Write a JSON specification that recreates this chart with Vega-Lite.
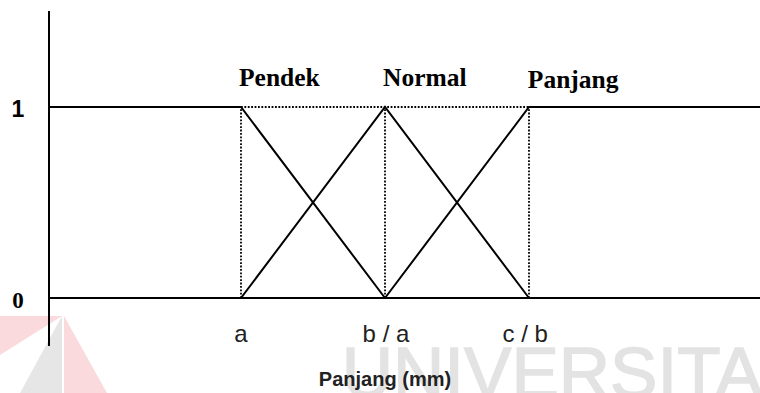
{
  "$schema": "https://vega.github.io/schema/vega-lite/v6.json",
  "width": 760,
  "height": 393,
  "padding": 0,
  "autosize": {"type": "fit", "contains": "padding"},
  "background": "white",
  "config": {"view": {"stroke": null}},
  "datasets": {
    "logo": [
      {"part": "pinkL", "x": -1.0208, "y": -0.0942, "y2": -0.2984},
      {"part": "pinkL", "x": 0.2708, "y": -0.0942, "y2": -0.0942},
      {"part": "grey", "x": -0.604, "y": -0.4974, "y2": -0.4974},
      {"part": "grey", "x": 0.2708, "y": -0.0942, "y2": -0.4974},
      {"part": "pinkR", "x": 0.3125, "y": -0.0942, "y2": -0.4974},
      {"part": "pinkR", "x": 1.2083, "y": -0.4974, "y2": -0.4974}
    ],
    "watermark": [{"text": "UNIVERSITA", "x": 6.1, "y": -0.52}],
    "solid": [
      {"id": "pendek", "k": 1, "x": 0, "y": 1},
      {"id": "pendek", "k": 2, "x": 4, "y": 1},
      {"id": "pendek", "k": 3, "x": 7, "y": 0},
      {"id": "normal", "k": 1, "x": 4, "y": 0},
      {"id": "normal", "k": 2, "x": 7, "y": 1},
      {"id": "normal", "k": 3, "x": 10, "y": 0},
      {"id": "panjang", "k": 1, "x": 7, "y": 0},
      {"id": "panjang", "k": 2, "x": 10, "y": 1},
      {"id": "panjang", "k": 3, "x": 14.8125, "y": 1},
      {"id": "base", "k": 1, "x": 0, "y": 0},
      {"id": "base", "k": 2, "x": 14.8125, "y": 0},
      {"id": "yaxis", "k": 1, "x": 0, "y": -0.251},
      {"id": "yaxis", "k": 2, "x": 0, "y": 1.503}
    ],
    "dotted": [
      {"x": 4, "y": 1, "x2": 10, "y2": 1},
      {"x": 4, "y": 0, "x2": 4, "y2": 1},
      {"x": 7, "y": 0, "x2": 7, "y2": 1},
      {"x": 10, "y": 0, "x2": 10, "y2": 1}
    ],
    "setLabels": [
      {"text": "Pendek", "x": 4.8, "y": 1.11},
      {"text": "Normal", "x": 7.83, "y": 1.11},
      {"text": "Panjang", "x": 10.92, "y": 1.1}
    ],
    "ticks": [
      {"text": "a", "x": 4, "y": -0.23},
      {"text": "b / a", "x": 7.02, "y": -0.23},
      {"text": "c / b", "x": 9.92, "y": -0.23}
    ],
    "title": [{"text": "Panjang (mm)", "x": 7.0, "y": -0.461}],
    "one": [{"text": "1", "x": -0.646, "y": 0.948}],
    "zero": [{"text": "0", "x": -0.646, "y": -0.052}]
  },
  "encoding": {
    "x": {"field": "x", "type": "quantitative", "scale": {"domain": [-1.0208, 14.8125], "nice": false, "zero": false}, "axis": null},
    "y": {"field": "y", "type": "quantitative", "scale": {"domain": [-0.4974, 1.5602], "nice": false, "zero": false}, "axis": null}
  },
  "layer": [
    {
      "data": {"name": "logo"},
      "mark": {"type": "area", "clip": true},
      "encoding": {
        "y": {"field": "y", "type": "quantitative", "stack": null},
        "y2": {"field": "y2"},
        "detail": {"field": "part"},
        "color": {"field": "part", "type": "nominal", "scale": {"domain": ["grey", "pinkL", "pinkR"], "range": ["#e6e6e6", "#fbdadd", "#fbdadd"]}, "legend": null}
      }
    },
    {
      "data": {"name": "watermark"},
      "mark": {"type": "text", "clip": true, "align": "left", "baseline": "alphabetic", "font": "Liberation Sans", "fontSize": 71, "color": "#e3e3e3", "stroke": "#e3e3e3", "strokeWidth": 1.5},
      "encoding": {"text": {"field": "text"}}
    },
    {
      "data": {"name": "dotted"},
      "mark": {"type": "rule", "clip": true, "color": "black", "strokeWidth": 1.8, "strokeDash": [1.8, 1.6]},
      "encoding": {"x2": {"field": "x2"}, "y2": {"field": "y2"}}
    },
    {
      "data": {"name": "solid"},
      "mark": {"type": "line", "clip": true, "color": "black", "strokeWidth": 2},
      "encoding": {"detail": {"field": "id"}, "order": {"field": "k", "type": "quantitative"}}
    },
    {
      "data": {"name": "setLabels"},
      "mark": {"type": "text", "clip": true, "align": "center", "baseline": "alphabetic", "font": "Liberation Serif", "fontWeight": "bold", "fontSize": 25.5, "color": "black"},
      "encoding": {"text": {"field": "text"}}
    },
    {
      "data": {"name": "ticks"},
      "mark": {"type": "text", "clip": true, "align": "center", "baseline": "alphabetic", "font": "Liberation Sans", "fontSize": 24, "color": "#222222"},
      "encoding": {"text": {"field": "text"}}
    },
    {
      "data": {"name": "title"},
      "mark": {"type": "text", "clip": true, "align": "center", "baseline": "alphabetic", "font": "Liberation Sans", "fontWeight": "bold", "fontSize": 20, "color": "#222222"},
      "encoding": {"text": {"field": "text"}}
    },
    {
      "data": {"name": "one"},
      "mark": {"type": "text", "clip": true, "align": "center", "baseline": "alphabetic", "font": "Liberation Sans", "fontWeight": "bold", "fontSize": 23, "color": "black"},
      "encoding": {"text": {"field": "text"}}
    },
    {
      "data": {"name": "zero"},
      "mark": {"type": "text", "clip": true, "align": "center", "baseline": "alphabetic", "font": "Liberation Serif", "fontWeight": "bold", "fontSize": 23, "color": "black"},
      "encoding": {"text": {"field": "text"}}
    }
  ]
}
